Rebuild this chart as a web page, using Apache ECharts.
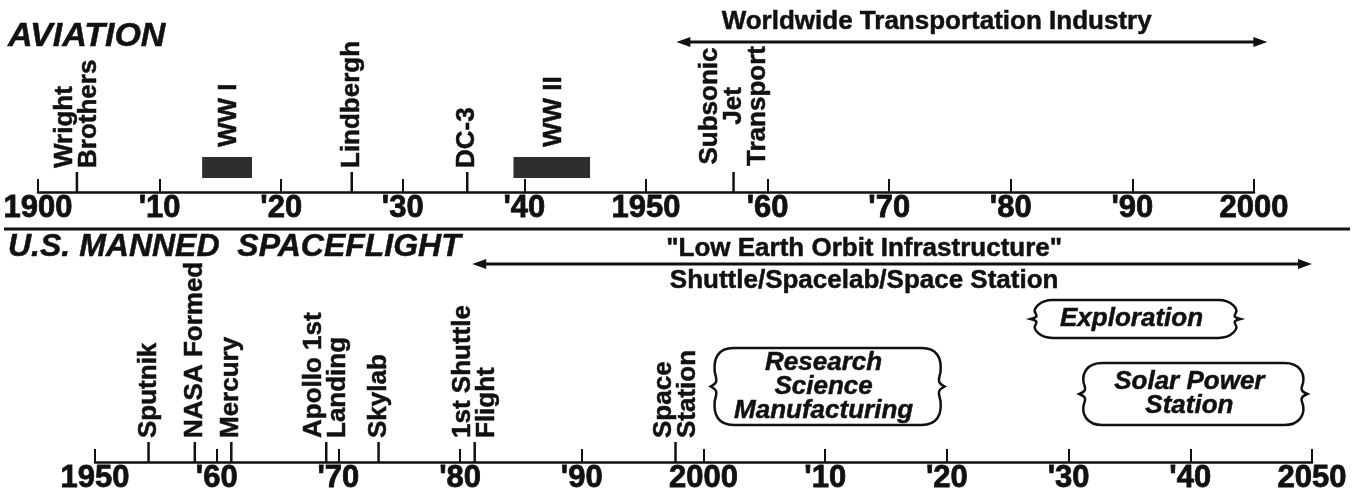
<!DOCTYPE html>
<html><head><meta charset="utf-8">
<script src="https://cdn.jsdelivr.net/npm/echarts@6/dist/echarts.min.js"></script>
<style>html,body{margin:0;padding:0;background:#fff}#c{width:1367px;height:498px}</style>
</head><body><div id="c"></div>
<script>
// ---------------- data ----------------
const aviationTickLabels = ['1900', "'10", "'20", "'30", "'40", '1950', "'60", "'70", "'80", "'90", '2000'];
const spaceTickLabels = ['1950', "'60", "'70", "'80", "'90", '2000', "'10", "'20", "'30", "'40", '2050'];

const aviationEventYears = [1903.2, 1925.8, 1935.3, 1957.2];
const aviationEventLabels = ['Wright\nBrothers', 'Lindbergh', 'DC-3', 'Subsonic\nJet\nTransport'];

const warNames = ['WW I', 'WW II'];
const warStart = [1913.5, 1939.1];
const warEnd = [1917.6, 1945.4];

const aviationEraLabel = 'Worldwide Transportation Industry';
const aviationEraFrom = 1952.5;
const aviationEraTo = 2001.1;
const aviationEraLabelAt = 1973.9;

const spaceEventYears = [1954.4, 1958.2, 1961.2, 1969.0, 1973.3, 1981.2, 1997.7];
const spaceEventLabels = ['Sputnik', 'NASA Formed', 'Mercury', 'Apollo 1st\nLanding', 'Skylab', '1st Shuttle\nFlight', 'Space\nStation'];

const leoEraLabelTop = '"Low Earth Orbit Infrastructure"';
const leoEraLabelBottom = 'Shuttle/Spacelab/Space Station';
const leoEraFrom = 1981.0;
const leoEraTo = 2050.0;
const leoEraLabelAt = 2013.2;

const futureNames = ['Research\nScience\nManufacturing', 'Exploration', 'Solar Power\nStation'];
const futureStart = [2001.0, 2027.3, 2031.3];
const futureEnd = [2019.4, 2043.7, 2049.2];

// ---------------- style ----------------
const FF = '"Liberation Sans", Arial, Helvetica, sans-serif';
const INK = '#111';
const BW = 0.5; // extra stroke to mimic the heavy original type
const aviationLabelAlign = ['left', 'left', 'left', 'center'];
const cloudRows = [[114, 37], [162, 124], [99, 37]]; // px above axis (top, bottom)

const chart = echarts.init(document.getElementById('c'));

function txt(extra) {
  return Object.assign({ fontFamily: FF, fontWeight: 'bold', fill: INK, stroke: INK, lineWidth: BW }, extra);
}

function eventRender(labels, aligns) {
  return function (params, api) {
    const i = params.dataIndex;
    const p = api.coord([api.value(0), 0]);
    const al = aligns ? aligns[i] : 'left';
    const y = al === 'center' ? p[1] - 24 - 62 : p[1] - 24;
    return {
      type: 'group', children: [
        { type: 'line', shape: { x1: p[0], y1: p[1], x2: p[0], y2: p[1] - 20 }, style: { stroke: INK, lineWidth: 2.5 } },
        { type: 'text', x: p[0], y: y, rotation: Math.PI / 2,
          style: txt({ text: labels[i], fontSize: 26, lineHeight: 24, align: al, verticalAlign: 'middle' }) }
      ]
    };
  };
}

function warRender(params, api) {
  const i = params.dataIndex;
  const a = api.coord([api.value(0), 0]);
  const b = api.coord([api.value(1), 0]);
  const cx = (a[0] + b[0]) / 2;
  return {
    type: 'group', children: [
      { type: 'rect', shape: { x: a[0], y: a[1] - 35, width: b[0] - a[0], height: 21 }, style: { fill: '#2e2e2e' } },
      { type: 'text', x: cx + 2, y: a[1] - 45, rotation: Math.PI / 2,
        style: txt({ text: warNames[i], fontSize: 26, align: 'left', verticalAlign: 'middle' }) }
    ]
  };
}

function arrowRender(lift, texts) {
  return function (params, api) {
    const a = api.coord([api.value(0), 0]);
    const b = api.coord([api.value(1), 0]);
    const c = api.coord([api.value(2), 0]);
    const y = a[1] - lift;
    const ch = [
      { type: 'line', shape: { x1: a[0] + 6, y1: y, x2: b[0] - 6, y2: y }, style: { stroke: INK, lineWidth: 3 } },
      { type: 'polygon', shape: { points: [[a[0], y], [a[0] + 14, y - 5], [a[0] + 14, y + 5]] }, style: { fill: INK } },
      { type: 'polygon', shape: { points: [[b[0], y], [b[0] - 14, y - 5], [b[0] - 14, y + 5]] }, style: { fill: INK } }
    ];
    texts.forEach(t => ch.push({ type: 'text', x: c[0], y: y + t.dy,
      style: txt({ text: t.text, fontSize: 26, align: 'center', verticalAlign: 'middle' }) }));
    return { type: 'group', children: ch };
  };
}

function cloudPath(x1, y1, x2, y2) {
  const h = y2 - y1, r = Math.min(18, h * 0.45);
  const m = y1 + h / 2;
  return [
    'M', x1 + r, y1,
    'L', x2 - r, y1,
    'C', x2 - 2, y1, x2 + 2, y1 + r * 0.6, x2 + 1, y1 + h * 0.3,
    'C', x2, m - h * 0.1, x2 - 4, m - h * 0.06, x2 + 5, m,
    'C', x2 - 4, m + h * 0.06, x2, m + h * 0.1, x2 + 1, y2 - h * 0.3,
    'C', x2 + 2, y2 - r * 0.6, x2 - 2, y2, x2 - r, y2,
    'L', x1 + r, y2,
    'C', x1 + 2, y2, x1 - 2, y2 - r * 0.6, x1 - 1, y2 - h * 0.3,
    'C', x1, m + h * 0.1, x1 + 4, m + h * 0.06, x1 - 5, m,
    'C', x1 + 4, m - h * 0.06, x1, m - h * 0.1, x1 - 1, y1 + h * 0.3,
    'C', x1 - 2, y1 + r * 0.6, x1 + 2, y1, x1 + r, y1, 'Z'
  ].join(' ');
}

function cloudRender(params, api) {
  const i = params.dataIndex;
  const a = api.coord([api.value(0), 0]);
  const b = api.coord([api.value(1), 0]);
  const y1 = a[1] - cloudRows[i][0], y2 = a[1] - cloudRows[i][1];
  return {
    type: 'group', children: [
      { type: 'path', shape: { pathData: cloudPath(a[0], y1, b[0], y2) }, style: { fill: '#fff', stroke: INK, lineWidth: 2.5 } },
      { type: 'text', x: (a[0] + b[0]) / 2 - 4, y: (y1 + y2) / 2,
        style: txt({ text: futureNames[i], fontStyle: 'italic', fontSize: 26, lineHeight: 24, align: 'center', verticalAlign: 'middle' }) }
    ]
  };
}

function xAxisCfg(gi, min, labels) {
  return {
    gridIndex: gi, type: 'value', min: min, max: min + 100, interval: 10,
    axisLine: { show: true, lineStyle: { color: INK, width: 2.5 } },
    axisTick: { show: true, inside: true, length: 13, lineStyle: { color: INK, width: 2 } },
    axisLabel: { show: true, margin: 1, hideOverlap: false, color: INK, fontFamily: FF, fontWeight: 'bold', fontSize: 31,
                 textBorderColor: INK, textBorderWidth: 0.8,
                 formatter: v => labels[Math.round((v - min) / 10)] },
    splitLine: { show: false }
  };
}

chart.setOption({
  backgroundColor: '#fff',
  animation: false,
  grid: [
    { left: 38, right: 113, top: 0, bottom: 306 },
    { left: 95, right: 55, top: 232, bottom: 36 }
  ],
  xAxis: [xAxisCfg(0, 1900, aviationTickLabels), xAxisCfg(1, 1950, spaceTickLabels)],
  yAxis: [
    { gridIndex: 0, type: 'value', min: 0, max: 1, show: false },
    { gridIndex: 1, type: 'value', min: 0, max: 1, show: false }
  ],
  graphic: [
    { type: 'text', x: 8, y: 37, style: txt({ text: 'AVIATION', fontStyle: 'italic', fontSize: 34, verticalAlign: 'middle' }) },
    { type: 'text', x: 8, y: 247, style: txt({ text: 'U.S. MANNED  SPACEFLIGHT', fontStyle: 'italic', fontSize: 32, verticalAlign: 'middle' }) },
    { type: 'line', shape: { x1: 4, y1: 229, x2: 1350, y2: 229 }, style: { stroke: INK, lineWidth: 3 } }
  ],
  series: [
    { type: 'custom', xAxisIndex: 0, yAxisIndex: 0, data: aviationEventYears.map(y => [y, 0]), renderItem: eventRender(aviationEventLabels, aviationLabelAlign), clip: false },
    { type: 'custom', xAxisIndex: 0, yAxisIndex: 0, data: warStart.map((s, i) => [s, warEnd[i]]), encode: { x: [0, 1] }, renderItem: warRender, clip: false },
    { type: 'custom', xAxisIndex: 0, yAxisIndex: 0, data: [[aviationEraFrom, aviationEraTo, aviationEraLabelAt]], encode: { x: [0, 1, 2] },
      renderItem: arrowRender(150, [{ text: aviationEraLabel, dy: -20 }]), clip: false },
    { type: 'custom', xAxisIndex: 1, yAxisIndex: 1, data: spaceEventYears.map(y => [y, 0]), renderItem: eventRender(spaceEventLabels, null), clip: false },
    { type: 'custom', xAxisIndex: 1, yAxisIndex: 1, data: [[leoEraFrom, leoEraTo, leoEraLabelAt]], encode: { x: [0, 1, 2] },
      renderItem: arrowRender(198, [{ text: leoEraLabelTop, dy: -15 }, { text: leoEraLabelBottom, dy: 17 }]), clip: false },
    { type: 'custom', xAxisIndex: 1, yAxisIndex: 1, data: futureStart.map((s, i) => [s, futureEnd[i]]), encode: { x: [0, 1] }, renderItem: cloudRender, clip: false }
  ]
});
</script>
</body></html>
